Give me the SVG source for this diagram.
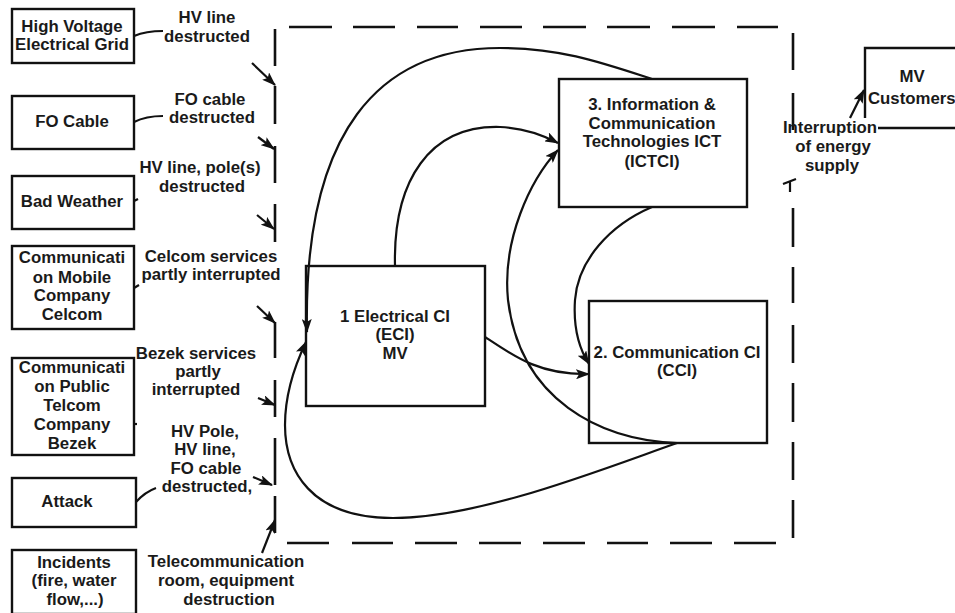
<svg xmlns="http://www.w3.org/2000/svg" width="955" height="613" viewBox="0 0 955 613">
<style>
.bg{fill:#fff}
.box{fill:#fff;stroke:#111;stroke-width:2.4}
.t{font-family:"Liberation Sans",Arial,sans-serif;font-weight:bold;font-size:16.8px;fill:#1a1a1a;text-anchor:middle}
.ln{fill:none;stroke:#111;stroke-width:2.2}
.dash{fill:none;stroke:#111;stroke-width:2.6}
</style>
<defs>
<marker id="ah" viewBox="0 0 14 10" refX="13" refY="5" markerWidth="14" markerHeight="10" markerUnits="userSpaceOnUse" orient="auto">
<path d="M0,0 L14,5 L0,10 L3,5 z" fill="#111"/>
</marker>
</defs>
<rect class="bg" width="955" height="613"/>

<g id="boundary">
<path class="dash" d="M289,27H332M353,27H395M417,27H458M480,27H522M543,27H586M607,27H650M672,27H715M737,27H778"/>
<path class="dash" d="M287,543H329M352,543H393M415,543H457M479,543H521M543,543H585M607,543H648M670,543H712M734,543H776"/>
<path class="dash" d="M275,29V66M275,86V124M275,146V183M275,204V242M275,322V358M275,380V417M275,438V485M275,496V533"/>
<path class="dash" d="M793,33V70M793,93V130M793,208V247M793,267V303M793,325V363M793,383V422M793,442V480M793,500V538"/>
</g>

<g id="n-hv-grid"><rect class="box" x="12" y="9" width="122" height="54"/>
<text class="t" x="72" y="32">High Voltage</text><text class="t" x="72" y="50">Electrical Grid</text></g>
<g id="n-fo-cable"><rect class="box" x="12" y="96" width="122" height="53"/>
<text class="t" x="72" y="127">FO Cable</text></g>
<g id="n-bad-weather"><rect class="box" x="12" y="176" width="122" height="53"/>
<text class="t" x="72" y="207">Bad Weather</text></g>
<g id="n-celcom"><rect class="box" x="12" y="246" width="122" height="83"/>
<text class="t" x="72" y="263">Communicati</text><text class="t" x="72" y="283">on Mobile</text><text class="t" x="72" y="301">Company</text><text class="t" x="72" y="320">Celcom</text></g>
<g id="n-bezek"><rect class="box" x="12" y="358" width="122" height="97"/>
<text class="t" x="72" y="373">Communicati</text><text class="t" x="72" y="392">on Public</text><text class="t" x="72" y="411">Telcom</text><text class="t" x="72" y="430">Company</text><text class="t" x="72" y="449">Bezek</text></g>
<g id="n-attack"><rect class="box" x="12" y="478" width="124" height="49"/>
<text class="t" x="67" y="507">Attack</text></g>
<g id="n-incidents"><rect class="box" x="12" y="550" width="124" height="64"/>
<text class="t" x="74" y="568">Incidents</text><text class="t" x="74" y="586">(fire, water</text><text class="t" x="75" y="605">flow,...)</text></g>

<g id="n-eci"><rect class="box" x="306" y="266" width="179" height="140"/>
<text class="t" x="395" y="322">1 Electrical CI</text><text class="t" x="395" y="340">(ECI)</text><text class="t" x="395" y="359">MV</text></g>
<g id="n-cci"><rect class="box" x="589" y="301" width="178" height="142"/>
<text class="t" x="677" y="358">2. Communication CI</text><text class="t" x="677" y="376">(CCI)</text></g>
<g id="n-ictci"><rect class="box" x="559" y="79" width="188" height="128"/>
<text class="t" x="652" y="110">3. Information &amp;</text><text class="t" x="652" y="129">Communication</text><text class="t" x="652" y="147">Technologies ICT</text><text class="t" x="652" y="167">(ICTCI)</text></g>
<g id="n-mv-customers">
<path class="box" style="fill:none" d="M865,118V48H960M878,128H960"/>
<text class="t" x="912" y="82">MV</text><text class="t" x="868" y="104" style="text-anchor:start">Customers</text></g>

<g id="labels">
<text class="t" x="207" y="23">HV line</text><text class="t" x="207" y="42">destructed</text>
<text class="t" x="210" y="105">FO cable</text><text class="t" x="212" y="123">destructed</text>
<text class="t" x="200" y="173">HV line, pole(s)</text><text class="t" x="202" y="192">destructed</text>
<text class="t" x="211" y="262">Celcom services</text><text class="t" x="211" y="280">partly interrupted</text>
<text class="t" x="196" y="359">Bezek services</text><text class="t" x="198" y="377">partly</text><text class="t" x="196" y="395">interrupted</text>
<text class="t" x="205" y="437">HV Pole,</text><text class="t" x="205" y="455">HV line,</text><text class="t" x="206" y="474">FO cable</text><text class="t" x="207" y="492">destructed,</text>
<text class="t" x="226" y="567">Telecommunication</text><text class="t" x="226" y="586">room, equipment</text><text class="t" x="229" y="605">destruction</text>
<text class="t" x="830" y="133">Interruption</text><text class="t" x="833" y="152">of energy</text><text class="t" x="832" y="171">supply</text>
</g>

<g id="connectors">
<path class="ln" d="M134,36 Q146,31 163,31"/>
<path class="ln" d="M134,122 Q146,116 163,116"/>
<path class="ln" d="M134,201 L138,199"/>
<path class="ln" d="M134,288 L139,285"/>
<path class="ln" d="M134,424 L137,424"/>
<path class="ln" d="M136,502 Q145,492 156,488"/>
<path class="ln" marker-end="url(#ah)" d="M252,63 L275,85"/>
<path class="ln" marker-end="url(#ah)" d="M258,137 L274,149"/>
<path class="ln" marker-end="url(#ah)" d="M257,215 L274,229"/>
<path class="ln" marker-end="url(#ah)" d="M257,306 L275,323"/>
<path class="ln" marker-end="url(#ah)" d="M258,398 L275,405"/>
<path class="ln" marker-end="url(#ah)" d="M253,477 L272,485"/>
<path class="ln" marker-end="url(#ah)" d="M262,553 L275,520"/>
<path class="ln" marker-end="url(#ah)" d="M850,118 L864,90"/>
<path class="ln" d="M783,184 L796,179 M790,181 V192"/>
<path class="ln" marker-end="url(#ah)" d="M652,79 C600,62 560,48 500,48 C380,48 303,130 307,332"/>
<path class="ln" marker-end="url(#ah)" d="M395,266 C393,180 430,125 500,127 C525,128 543,135 558,143"/>
<path class="ln" marker-end="url(#ah)" d="M677,443 C600,440 520,400 508,300 C502,240 530,180 558,150"/>
<path class="ln" marker-end="url(#ah)" d="M677,443 C600,470 480,518 393,518 C310,518 285,470 285,425 C285,395 295,365 306,342"/>
<path class="ln" marker-end="url(#ah)" d="M652,207 C610,225 578,260 575,300 C573,330 580,350 589,364"/>
<path class="ln" marker-end="url(#ah)" d="M485,337 C515,357 540,375 589,374"/>
</g>
</svg>
